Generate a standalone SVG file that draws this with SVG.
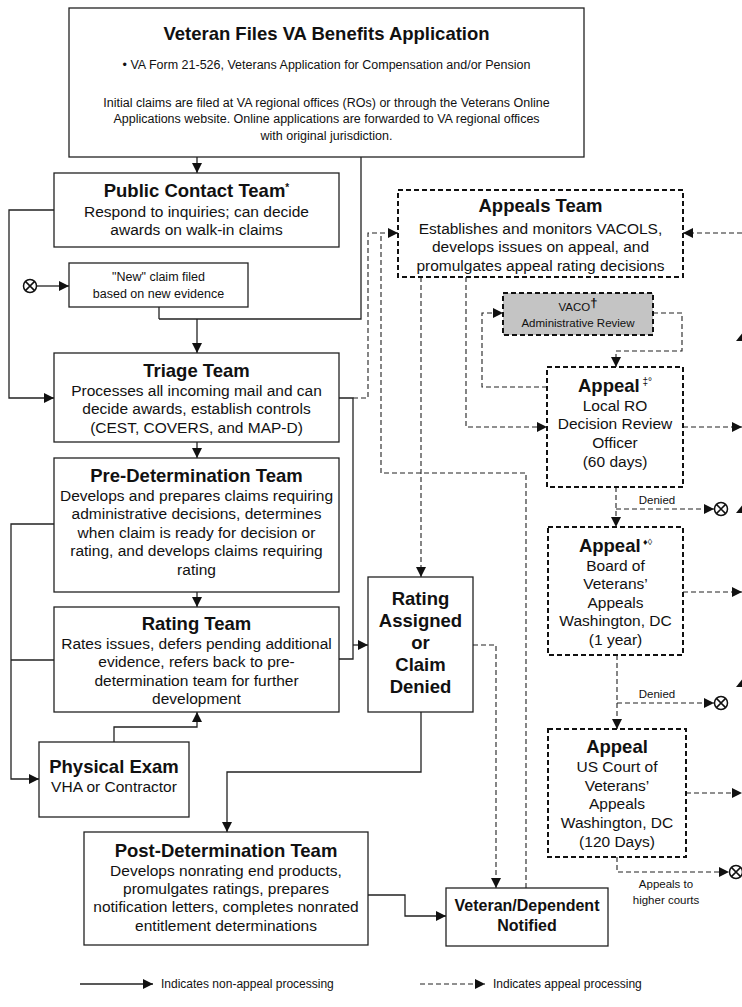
<svg xmlns="http://www.w3.org/2000/svg" width="742" height="1007" viewBox="0 0 742 1007">
<style>
text{font-family:"Liberation Sans",Arial,Helvetica,sans-serif;fill:#111;text-anchor:middle}
.t{font-size:18.5px;font-weight:bold}
.tn{font-size:16px;font-weight:bold}
.b{font-size:15.5px}
.s{font-size:12.5px}
.xs{font-size:11.5px}
.lg{font-size:12px;text-anchor:start}
.box{fill:#fff;stroke:#222;stroke-width:1.3}
.dbox{fill:#fff;stroke:#111;stroke-width:2;stroke-dasharray:5 3}
.gray{fill:#c4c4c4}
.c{fill:none;stroke:#222;stroke-width:1.3}
.d{fill:none;stroke:#222;stroke-width:1.1;stroke-dasharray:5 3}
.x{fill:#fff;stroke:#111;stroke-width:1.5}
</style>
<defs>
<marker id="a" viewBox="0 0 10 10" refX="10" refY="5" markerWidth="11" markerHeight="10" orient="auto" markerUnits="userSpaceOnUse"><path d="M0,0L10,5L0,10z" fill="#111"/></marker>
<g id="ox"><circle r="6.5" class="x"/><path d="M-4.6,-4.6L4.6,4.6M-4.6,4.6L4.6,-4.6" stroke="#111" stroke-width="1.5"/></g>
</defs>
<rect width="742" height="1007" fill="#fff"/>

<g id="connectors">
<path class="c" d="M197,157V173" marker-end="url(#a)"/>
<path class="c" d="M361,157V319H159M159,307V319"/>
<path class="c" d="M197,319V353" marker-end="url(#a)"/>
<path class="c" d="M37,286H69" marker-end="url(#a)"/>
<path class="c" d="M54,210H9V398H54" marker-end="url(#a)"/>
<path class="c" d="M197,442V458" marker-end="url(#a)"/>
<path class="c" d="M339,398H353V659H339"/>
<path class="c" d="M353,645H368" marker-end="url(#a)"/>
<path class="c" d="M197,592V607" marker-end="url(#a)"/>
<path class="c" d="M54,524H11V779H39" marker-end="url(#a)"/>
<path class="c" d="M54,660H11"/>
<path class="c" d="M114,742V727H197V712" marker-end="url(#a)"/>
<path class="c" d="M421,712V772H227V832" marker-end="url(#a)"/>
<path class="c" d="M368,895H405V916H446" marker-end="url(#a)"/>

<path class="d" d="M353,398H368V233H398" marker-end="url(#a)"/>
<path class="d" d="M526,888V473H381V233"/>
<path class="d" d="M742,233H683" marker-end="url(#a)"/>
<path class="d" d="M421,277V577" marker-end="url(#a)"/>
<path class="d" d="M466,277V427H547" marker-end="url(#a)"/>
<path class="d" d="M547,387H482V313H503" marker-end="url(#a)"/>
<path class="d" d="M653,313H682V351H616V367" marker-end="url(#a)"/>
<path class="d" d="M683,427H742" marker-end="url(#a)"/>
<path class="d" d="M616,487V527" marker-end="url(#a)"/>
<path class="d" d="M616,509H714" marker-end="url(#a)"/>
<path class="d" d="M683,592H742" marker-end="url(#a)"/>
<path class="d" d="M617,655V729" marker-end="url(#a)"/>
<path class="d" d="M617,703H714" marker-end="url(#a)"/>
<path class="d" d="M686,793H742" marker-end="url(#a)"/>
<path class="d" d="M617,857V872H729" marker-end="url(#a)"/>
<path class="d" d="M473,645H496V888" marker-end="url(#a)"/>

<use href="#ox" x="30" y="286"/>
<use href="#ox" x="721" y="509"/>
<use href="#ox" x="721" y="703"/>
<use href="#ox" x="736" y="872"/>
<text class="xs" x="657" y="504">Denied</text>
<text class="xs" x="657" y="698">Denied</text>
<text class="xs" x="666" y="888">Appeals to</text>
<text class="xs" x="666" y="904">higher courts</text>

<path d="M736,341H752L744,331z" fill="#111"/>
<path d="M736,513H752L744,503z" fill="#111"/>
<path d="M736,687H752L744,677z" fill="#111"/>
</g>

<g id="top">
<rect class="box" x="69" y="8" width="515" height="149"/>
<text class="t" x="326.5" y="40">Veteran Files VA Benefits Application</text>
<text class="s" x="326.5" y="69">• VA Form 21-526, Veterans Application for Compensation and/or Pension</text>
<text class="s" x="326.5" y="107">Initial claims are filed at VA regional offices (ROs) or through the Veterans Online</text>
<text class="s" x="326.5" y="123">Applications website. Online applications are forwarded to VA regional offices</text>
<text class="s" x="326.5" y="140">with original jurisdiction.</text>
</g>

<g id="public">
<rect class="box" x="54" y="173" width="285" height="74"/>
<text class="t" x="196.5" y="197">Public Contact Team<tspan font-size="10" dy="-6">*</tspan></text>
<text class="b" x="196.5" y="217">Respond to inquiries; can decide</text>
<text class="b" x="196.5" y="235">awards on walk-in claims</text>
</g>

<g id="newclaim">
<rect class="box" x="69" y="263" width="179" height="44"/>
<text class="s" x="158.5" y="281">"New" claim filed</text>
<text class="s" x="158.5" y="298">based on new evidence</text>
</g>

<g id="triage">
<rect class="box" x="54" y="353" width="285" height="89"/>
<text class="t" x="196.5" y="377">Triage Team</text>
<text class="b" x="196.5" y="396">Processes all incoming mail and can</text>
<text class="b" x="196.5" y="414">decide awards, establish controls</text>
<text class="b" x="196.5" y="433">(CEST, COVERS, and MAP-D)</text>
</g>

<g id="predetermination">
<rect class="box" x="54" y="458" width="285" height="134"/>
<text class="t" x="196.5" y="482">Pre-Determination Team</text>
<text class="b" x="196.5" y="501">Develops and prepares claims requiring</text>
<text class="b" x="196.5" y="519">administrative decisions, determines</text>
<text class="b" x="196.5" y="538">when claim is ready for decision or</text>
<text class="b" x="196.5" y="556">rating, and develops claims requiring</text>
<text class="b" x="196.5" y="575">rating</text>
</g>

<g id="rating">
<rect class="box" x="54" y="607" width="285" height="105"/>
<text class="t" x="196.5" y="630">Rating Team</text>
<text class="b" x="196.5" y="649">Rates issues, defers pending additional</text>
<text class="b" x="196.5" y="667">evidence, refers back to pre-</text>
<text class="b" x="196.5" y="686">determination team for further</text>
<text class="b" x="196.5" y="704">development</text>
</g>

<g id="physical">
<rect class="box" x="39" y="742" width="150" height="75"/>
<text class="t" x="114" y="773">Physical Exam</text>
<text class="b" x="114" y="792">VHA or Contractor</text>
</g>

<g id="assigned">
<rect class="box" x="368" y="577" width="105" height="135"/>
<text class="t" x="420.5" y="605">Rating</text>
<text class="t" x="420.5" y="627">Assigned</text>
<text class="t" x="420.5" y="649">or</text>
<text class="t" x="420.5" y="671">Claim</text>
<text class="t" x="420.5" y="693">Denied</text>
</g>

<g id="post">
<rect class="box" x="84" y="832" width="284" height="113"/>
<text class="t" x="226" y="857">Post-Determination Team</text>
<text class="b" x="226" y="876">Develops nonrating end products,</text>
<text class="b" x="226" y="894">promulgates ratings, prepares</text>
<text class="b" x="226" y="912">notification letters, completes nonrated</text>
<text class="b" x="226" y="931">entitlement determinations</text>
</g>

<g id="notified">
<rect class="box" x="446" y="888" width="162" height="58"/>
<text class="tn" x="527" y="911">Veteran/Dependent</text>
<text class="tn" x="527" y="931">Notified</text>
</g>

<g id="appeals">
<rect class="dbox" x="398" y="190" width="285" height="87"/>
<text class="t" x="540.5" y="212">Appeals Team</text>
<text class="b" x="540.5" y="234">Establishes and monitors VACOLS,</text>
<text class="b" x="540.5" y="252">develops issues on appeal, and</text>
<text class="b" x="540.5" y="271">promulgates appeal rating decisions</text>
</g>

<g id="vaco">
<rect class="dbox gray" x="503" y="293" width="150" height="42"/>
<text class="xs" x="578" y="311">VACO<tspan font-size="13" font-weight="bold" dy="-4">†</tspan></text>
<text class="xs" x="578" y="327">Administrative Review</text>
</g>

<g id="appeal-ro">
<rect class="dbox" x="547" y="367" width="136" height="120"/>
<text class="t" x="615" y="392">Appeal<tspan font-size="10" font-weight="normal" dy="-7"> ‡°</tspan></text>
<text class="b" x="615" y="411">Local RO</text>
<text class="b" x="615" y="429">Decision Review</text>
<text class="b" x="615" y="448">Officer</text>
<text class="b" x="615" y="467">(60 days)</text>
</g>

<g id="appeal-bva">
<rect class="dbox" x="548" y="527" width="135" height="128"/>
<text class="t" x="615.5" y="552">Appeal<tspan font-size="9" font-weight="normal" dy="-7"> ♦◊</tspan></text>
<text class="b" x="615.5" y="571">Board of</text>
<text class="b" x="615.5" y="589">Veterans’</text>
<text class="b" x="615.5" y="608">Appeals</text>
<text class="b" x="615.5" y="626">Washington, DC</text>
<text class="b" x="615.5" y="645">(1 year)</text>
</g>

<g id="appeal-court">
<rect class="dbox" x="548" y="729" width="138" height="128"/>
<text class="t" x="617" y="753">Appeal</text>
<text class="b" x="617" y="772">US Court of</text>
<text class="b" x="617" y="791">Veterans’</text>
<text class="b" x="617" y="809">Appeals</text>
<text class="b" x="617" y="828">Washington, DC</text>
<text class="b" x="617" y="847">(120 Days)</text>
</g>

<g id="legend">
<path class="c" d="M80,984H153" marker-end="url(#a)"/>
<text class="lg" x="161" y="988">Indicates non-appeal processing</text>
<path class="d" d="M420,984H485" marker-end="url(#a)"/>
<text class="lg" x="493" y="988">Indicates appeal processing</text>
</g>
</svg>
